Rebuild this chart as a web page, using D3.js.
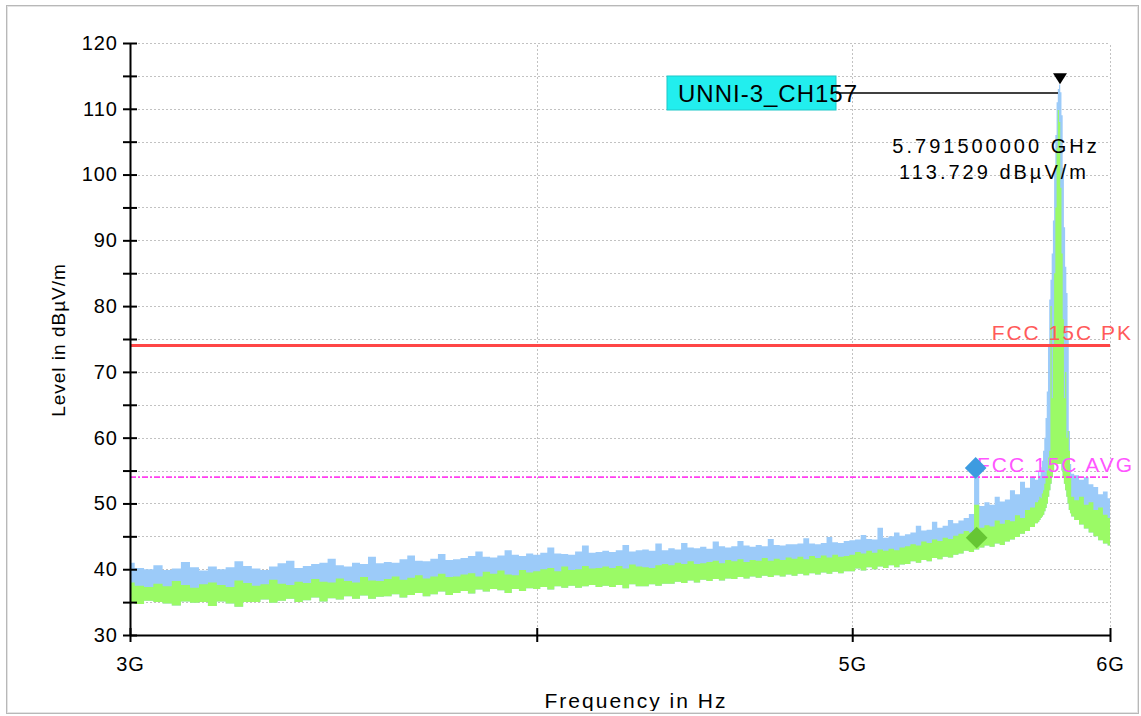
<!DOCTYPE html>
<html>
<head>
<meta charset="utf-8">
<script src="https://cdn.jsdelivr.net/npm/d3@7"></script>
<style>
  body { margin: 0; background: #fff; }
  svg { display: block; font-family: "Liberation Sans", Arial, sans-serif; }
</style>
</head>
<body>
<svg id="chart" width="1141" height="716"></svg>
<script>
// ── Data ─────────────────────────────────────────────────────────────────────

// sweep frequencies in GHz
const freqs = [
  3.00,3.02,3.04,3.06,3.08,3.10,3.12,3.14,3.16,3.18,
  3.20,3.22,3.24,3.26,3.28,3.30,3.32,3.34,3.36,3.38,
  3.40,3.42,3.44,3.46,3.48,3.50,3.52,3.54,3.56,3.58,
  3.60,3.62,3.64,3.66,3.68,3.70,3.72,3.74,3.76,3.78,
  3.80,3.82,3.84,3.86,3.88,3.90,3.92,3.94,3.96,3.98,
  4.00,4.02,4.04,4.06,4.08,4.10,4.12,4.14,4.16,4.18,
  4.20,4.22,4.24,4.26,4.28,4.30,4.32,4.34,4.36,4.38,
  4.40,4.42,4.44,4.46,4.48,4.50,4.52,4.54,4.56,4.58,
  4.60,4.62,4.64,4.66,4.68,4.70,4.72,4.74,4.76,4.78,
  4.80,4.82,4.84,4.86,4.88,4.90,4.92,4.94,4.96,4.98,
  5.00,5.02,5.04,5.06,5.08,5.10,5.12,5.14,5.16,5.18,
  5.20,5.22,5.24,5.26,5.28,5.30,5.32,5.34,5.36,5.38,
  5.40,5.42,5.44,5.46,5.48,5.50,5.52,5.54,5.56,5.58,
  5.60,5.62,5.64,5.66,5.68,5.70,
  5.705,5.71,5.715,5.72,5.725,5.73,5.735,5.74,5.745,5.75,
  5.755,5.76,5.765,5.77,5.775,5.78,5.785,5.79,5.795,5.80,
  5.805,5.81,5.815,5.82,5.825,5.83,5.835,5.84,
  5.86,5.88,5.90,5.92,5.94,5.96,5.98,6.00
];

// peak detector trace, upper edge (dBµV/m)
const pkHi = [
  41.0,40.2,40.0,40.6,39.9,40.1,41.1,40.3,39.8,40.4,
  40.0,40.3,41.2,40.5,40.1,39.9,40.4,40.9,41.3,40.2,
  40.5,40.8,41.0,41.6,40.6,40.4,41.0,40.8,41.9,40.9,
  41.1,41.0,41.5,42.1,41.3,41.2,41.6,42.3,41.4,41.5,
  41.7,42.0,42.7,41.9,41.8,42.1,42.9,42.2,42.0,42.4,
  42.2,42.5,43.3,42.4,42.3,42.2,42.7,43.6,42.5,42.6,
  42.8,42.6,42.9,43.7,42.7,42.9,43.0,42.8,43.9,42.9,
  43.2,43.0,44.0,43.3,43.2,43.4,43.1,44.2,43.5,43.3,
  43.5,44.3,43.6,43.4,43.7,43.5,44.6,43.7,43.6,43.8,
  43.8,43.9,44.7,43.9,43.8,44.0,44.9,44.1,44.0,44.3,
  44.4,44.5,45.2,44.6,44.5,46.3,44.8,45.0,45.6,45.1,
  45.3,45.6,46.6,45.9,46.0,47.2,46.3,46.6,47.5,47.0,
  47.4,47.8,48.4,55.4,49.6,50.2,49.8,51.0,50.3,50.6,
  52.0,51.4,53.3,52.4,54.0,53.6,
  54.8,54.2,55.5,56.5,58.0,60.0,63.0,67.0,74.0,81.0,
  84.0,88.0,93.0,101.0,106.0,111.0,113.0,113.7,112.5,109.0,
  101.0,92.0,86.0,82.0,75.0,61.0,56.0,54.5,
  54.3,53.6,54.0,52.9,52.5,51.4,51.8,50.8
];

// average detector trace, upper and lower edge (dBµV/m)
const avHi = [
  38.0,37.5,37.3,37.8,37.4,38.2,37.6,37.2,37.7,38.0,
  37.6,37.3,38.3,37.9,37.5,37.7,38.4,37.8,37.6,38.1,
  37.9,38.5,38.1,38.0,38.6,38.2,38.0,38.8,38.3,38.2,
  38.5,38.9,38.4,38.7,39.1,38.6,38.9,39.3,38.8,38.9,
  39.2,39.4,38.9,39.6,39.3,39.8,39.2,39.1,39.9,39.5,
  39.7,40.0,40.2,39.7,40.4,39.9,40.0,40.5,40.1,40.2,
  40.4,40.2,40.5,40.1,40.7,40.4,40.3,40.2,40.6,40.8,
  40.6,41.0,40.8,41.2,40.8,40.9,41.1,41.3,40.9,41.4,
  41.2,41.5,41.1,41.4,41.3,41.7,41.3,41.6,41.4,41.8,
  41.6,41.9,41.5,42.0,41.7,42.1,41.8,42.2,41.9,42.0,
  42.2,42.6,42.4,42.8,42.5,43.0,42.8,43.1,42.9,43.3,
  43.5,43.8,43.6,44.2,44.0,44.5,44.3,44.8,44.6,45.1,
  45.4,45.8,45.6,49.8,46.3,46.7,46.5,47.4,46.9,47.5,
  47.3,48.2,47.8,49.0,49.4,50.2,
  50.5,51.0,50.8,51.5,52.0,53.0,54.0,55.0,57.0,58.0,
  80.0,66.0,74.0,85.0,95.0,104.0,109.8,108.0,98.0,88.0,
  78.0,66.0,70.0,60.0,61.0,58.0,54.0,51.0,
  50.5,51.0,49.8,50.2,49.0,49.4,48.3,47.8
];

const avLo = [
  35.0,34.7,35.2,35.0,34.8,34.5,35.1,34.9,35.0,34.4,
  35.1,34.8,34.3,35.0,35.0,35.4,34.9,35.2,35.5,35.0,
  35.3,35.7,35.1,35.6,35.4,35.9,35.5,36.0,35.5,35.8,
  35.9,36.2,35.7,36.1,36.4,35.9,36.2,36.6,36.1,36.4,
  36.7,36.3,36.9,36.6,37.0,36.8,36.4,37.0,36.7,37.1,
  37.0,37.3,36.9,37.4,37.2,37.5,37.2,37.4,37.6,37.3,
  37.5,37.3,37.6,37.1,37.7,37.4,37.4,37.7,37.5,37.8,
  37.8,38.1,37.9,38.3,38.0,38.4,38.2,38.5,38.3,38.6,
  38.5,38.8,38.6,38.9,38.7,39.0,38.8,39.1,38.9,39.2,
  39.0,39.3,39.1,39.4,39.2,39.5,39.3,39.6,39.4,39.7,
  39.7,40.1,39.8,40.3,40.0,40.4,40.2,40.6,40.3,40.7,
  40.8,41.2,41.0,41.4,41.2,41.7,41.5,41.9,41.8,42.2,
  42.4,42.8,42.6,43.0,43.3,43.6,43.4,43.9,43.7,44.2,
  44.5,44.9,45.4,45.8,46.4,47.0,
  47.2,47.5,47.8,48.0,48.3,48.8,49.3,50.0,51.0,52.0,
  53.0,54.0,55.0,56.0,56.0,56.0,56.0,56.0,56.0,55.0,
  54.0,53.0,52.0,51.0,50.0,49.0,48.5,48.0,
  47.5,46.8,46.2,45.6,45.0,44.4,43.9,43.6
];

// limit lines
const limitPk = 74;
const limitAvg = 54;

// markers
const peakFreq = 5.7915;
const peakLevel = 113.729;
const finalFreq = 5.46;
const finalPk = 55.4;
const finalAvg = 44.8;

// axis ticks
const yMajor = [30, 40, 50, 60, 70, 80, 90, 100, 110, 120];
const yMinor = [35, 45, 55, 65, 75, 85, 95, 105, 115];
const xTicks = [3, 4, 5, 6];
const xTickLabels = ["3G", "", "5G", "6G"];

// ── Layout ───────────────────────────────────────────────────────────────────

const svg = d3.select("#chart");
const x = d3.scaleLog().domain([3, 6]).range([130, 1110]);
const y = d3.scaleLinear().domain([30, 120]).range([635, 43]);

const BLUE = "#9ccbf9";
const GREEN = "#9bfa66";
const FONT = '"Liberation Sans", Arial, sans-serif';

svg.append("defs").append("clipPath").attr("id", "plot-clip")
  .append("rect")
  .attr("x", x(3)).attr("y", y(120))
  .attr("width", x(6) - x(3)).attr("height", y(30) - y(120));

svg.select("defs").append("clipPath").attr("id", "frame-clip")
  .append("rect").attr("x", 0).attr("y", 0).attr("width", 1141).attr("height", 711);

// ── Grid ─────────────────────────────────────────────────────────────────────

const grid = svg.append("g")
  .attr("stroke", "#c2c2c2")
  .attr("stroke-width", 1)
  .attr("stroke-dasharray", "2,2");

grid.selectAll("line.h")
  .data(yMajor.concat(yMinor).filter((d) => d > 30))
  .join("line")
  .attr("x1", x(3)).attr("x2", x(6))
  .attr("y1", (d) => Math.round(y(d)) + 0.5)
  .attr("y2", (d) => Math.round(y(d)) + 0.5);

grid.selectAll("line.v")
  .data(xTicks.filter((d) => d > 3))
  .join("line")
  .attr("x1", (d) => Math.round(x(d)) + 0.5)
  .attr("x2", (d) => Math.round(x(d)) + 0.5)
  .attr("y1", y(30)).attr("y2", y(120));

// ── Traces ───────────────────────────────────────────────────────────────────

const idx = d3.range(freqs.length);
const traces = svg.append("g").attr("clip-path", "url(#plot-clip)");

const pkArea = d3.area()
  .curve(d3.curveStep)
  .x((i) => x(freqs[i]))
  .y0((i) => y(avLo[i]))
  .y1((i) => y(pkHi[i]));

const avArea = d3.area()
  .curve(d3.curveStep)
  .x((i) => x(freqs[i]))
  .y0((i) => y(avLo[i]))
  .y1((i) => y(avHi[i]));

traces.append("path").attr("d", pkArea(idx)).attr("fill", BLUE);
traces.append("path").attr("d", avArea(idx)).attr("fill", GREEN);

// ── Limit lines ──────────────────────────────────────────────────────────────

svg.append("line")
  .attr("x1", x(3)).attr("x2", x(6))
  .attr("y1", y(limitPk)).attr("y2", y(limitPk))
  .attr("stroke", "#ff4646").attr("stroke-width", 3);

svg.append("line")
  .attr("x1", x(3)).attr("x2", x(6))
  .attr("y1", y(limitAvg)).attr("y2", y(limitAvg))
  .attr("stroke", "#ff40f0").attr("stroke-width", 1.6)
  .attr("stroke-dasharray", "6,2,2,2");

svg.append("text")
  .attr("x", 1133).attr("y", 340)
  .attr("text-anchor", "end")
  .attr("font-size", 21).attr("letter-spacing", 2)
  .attr("fill", "#ff5a5a")
  .text("FCC 15C PK");

svg.append("text")
  .attr("x", 1134).attr("y", 472)
  .attr("text-anchor", "end")
  .attr("font-size", 21).attr("letter-spacing", 2)
  .attr("fill", "#ff55ff")
  .text("FCC 15C AVG");

// ── Final measurement diamonds ───────────────────────────────────────────────

const diamond = d3.symbol().type(d3.symbolDiamond2).size(300);

svg.append("path")
  .attr("d", diamond())
  .attr("transform", `translate(${x(finalFreq) - 1},${y(finalPk)})`)
  .attr("fill", "#3d9be0");

svg.append("path")
  .attr("d", diamond())
  .attr("transform", `translate(${x(finalFreq)},${y(finalAvg)})`)
  .attr("fill", "#66c634");

// ── Axes ─────────────────────────────────────────────────────────────────────

const yAxis = svg.append("g")
  .attr("transform", `translate(${x(3)},0)`)
  .call(d3.axisLeft(y)
    .tickValues(yMajor.concat(yMinor))
    .tickSize(7).tickSizeOuter(0).tickPadding(5)
    .tickFormat((d) => (yMajor.includes(d) ? d : "")));

yAxis.selectAll(".tick line").attr("x1", 7).attr("stroke-width", 2);
yAxis.select(".domain").attr("stroke-width", 2);
yAxis.selectAll("text")
  .attr("font-size", 20).attr("font-family", FONT)
  .attr("letter-spacing", 1).attr("fill", "#000");

const xAxis = svg.append("g")
  .attr("transform", `translate(0,${y(30)})`)
  .call(d3.axisBottom(x)
    .tickValues(xTicks)
    .tickSize(7).tickSizeOuter(0).tickPadding(15)
    .tickFormat((d, i) => xTickLabels[i]));

xAxis.selectAll(".tick line").attr("y1", -7).attr("stroke-width", 2);
xAxis.select(".domain").attr("stroke-width", 2);
xAxis.selectAll("text")
  .attr("font-size", 20).attr("font-family", FONT)
  .attr("letter-spacing", 1).attr("fill", "#000");

svg.append("text")
  .attr("transform", "translate(65,340) rotate(-90)")
  .attr("text-anchor", "middle")
  .attr("font-size", 19).attr("letter-spacing", 1)
  .text("Level in dBµV/m");

svg.append("g").attr("clip-path", "url(#frame-clip)")
  .append("text")
  .attr("x", 636).attr("y", 708)
  .attr("text-anchor", "middle")
  .attr("font-size", 21).attr("letter-spacing", 2)
  .text("Frequency in Hz");

// ── Peak marker ──────────────────────────────────────────────────────────────

const peakX = x(peakFreq);
const peakY = y(peakLevel);

svg.append("path")
  .attr("d", `M${peakX - 7},${peakY - 11}L${peakX + 7},${peakY - 11}L${peakX},${peakY}Z`)
  .attr("fill", "#000");

svg.append("rect")
  .attr("x", 667).attr("y", 76).attr("width", 169).attr("height", 34)
  .attr("fill", "#22eeee").attr("stroke", "#1cc8c8").attr("stroke-width", 1);

svg.append("line")
  .attr("x1", 836).attr("x2", peakX - 2)
  .attr("y1", 93).attr("y2", 93)
  .attr("stroke", "#000").attr("stroke-width", 1.5);

svg.append("text")
  .attr("x", 678).attr("y", 102)
  .attr("font-size", 24).attr("letter-spacing", 1)
  .text("UNNI-3_CH157");

svg.append("text")
  .attr("x", 996).attr("y", 153)
  .attr("text-anchor", "middle")
  .attr("font-size", 20).attr("letter-spacing", 3)
  .text(`${peakFreq.toFixed(9)} GHz`);

svg.append("text")
  .attr("x", 994).attr("y", 179)
  .attr("text-anchor", "middle")
  .attr("font-size", 20).attr("letter-spacing", 3)
  .text(`${peakLevel.toFixed(3)} dBµV/m`);

// ── Frame ────────────────────────────────────────────────────────────────────

svg.append("rect")
  .attr("x", 6.5).attr("y", 5.5).attr("width", 1132).attr("height", 708)
  .attr("fill", "none").attr("stroke", "#b8b8b8");
svg.append("rect")
  .attr("x", 7.5).attr("y", 6.5).attr("width", 1130).attr("height", 706)
  .attr("fill", "none").attr("stroke", "#e4e4e4");
</script>
</body>
</html>
